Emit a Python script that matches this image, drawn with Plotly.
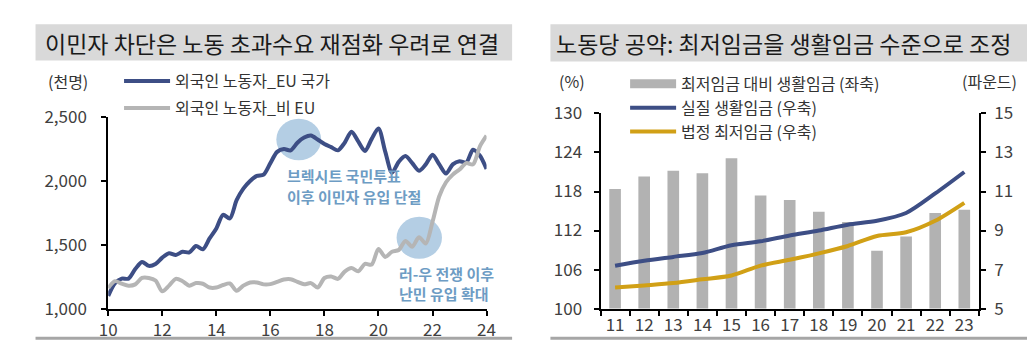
import plotly.graph_objects as go

W, H = 1036, 354
FONT = "Noto Sans CJK KR"

# ---------------- Left chart data (quarterly, thousand persons) ----------------
quarter_x = [10.0, 10.25, 10.5, 10.75, 11.0, 11.25, 11.5, 11.75, 12.0, 12.25, 12.5, 12.75,
             13.0, 13.25, 13.5, 13.75, 14.0, 14.25, 14.5, 14.75, 15.0, 15.25, 15.5, 15.75,
             16.0, 16.25, 16.5, 16.75, 17.0, 17.25, 17.5, 17.75, 18.0, 18.25, 18.5, 18.75,
             19.0, 19.25, 19.5, 19.75, 20.0, 20.25, 20.5, 20.75, 21.0, 21.25, 21.5, 21.75,
             22.0, 22.25, 22.5, 22.75, 23.0, 23.25, 23.5, 23.75, 24.0]
eu_workers = [1100, 1200, 1235, 1235, 1310, 1366, 1335, 1350, 1400, 1434, 1420, 1445,
              1440, 1490, 1465, 1550, 1628, 1735, 1706, 1850, 1940, 2000, 2040, 2050,
              2140, 2228, 2250, 2240, 2300, 2340, 2356, 2325, 2290, 2265, 2240, 2300,
              2385, 2310, 2235, 2330, 2412, 2230, 2065, 2150, 2195, 2140, 2080, 2130,
              2205, 2130, 2058, 2130, 2155, 2145, 2245, 2200, 2094]
non_eu_workers = [1160, 1215, 1195, 1180, 1190, 1240, 1240, 1220, 1136, 1180, 1233, 1215,
                  1180, 1200, 1195, 1165, 1165, 1185, 1197, 1140, 1180, 1205, 1205, 1190,
                  1192, 1210, 1228, 1230, 1210, 1190, 1200, 1165, 1240, 1252, 1233, 1290,
                  1318, 1293, 1350, 1345, 1468, 1405, 1445, 1459, 1530, 1485, 1560, 1510,
                  1680, 1880, 1990, 2050, 2090, 2140, 2130, 2270, 2355]
left_ytick_vals = [1000, 1500, 2000, 2500]
left_ytick_text = ["1,000", "1,500", "2,000", "2,500"]
left_xtick_vals = [10, 12, 14, 16, 18, 20, 22, 24]

# ---------------- Right chart data ----------------
years = ["11", "12", "13", "14", "15", "16", "17", "18", "19", "20", "21", "22", "23"]
living_vs_min = [118.4, 120.3, 121.2, 120.8, 123.1, 117.4, 116.7, 114.9, 113.3, 108.9, 111.1, 114.7, 115.2]
real_living_wage = [7.20, 7.45, 7.65, 7.85, 8.25, 8.45, 8.75, 9.00, 9.30, 9.50, 9.90, 10.90, 12.00]
min_wage = [6.08, 6.19, 6.31, 6.50, 6.70, 7.20, 7.50, 7.83, 8.21, 8.72, 8.91, 9.50, 10.42]

BLUE = "#3d4e85"
GREY_LINE = "#b5b5b5"
GOLD = "#d1a016"
BAR = "#b2b2b2"
NOTE = "#6d9cc4"
CIRCLE = "#b4cee4"
TICK = "#404040"

def px_x(p):
    return p / W

def px_y(p):
    return 1 - p / H

fig = go.Figure()

# Left chart traces
fig.add_trace(go.Scatter(x=quarter_x, y=eu_workers, mode="lines", name="외국인 노동자_EU 국가",
                         line=dict(color=BLUE, width=4, shape="spline", smoothing=0.8),
                         xaxis="x", yaxis="y", legend="legend", legendgroup="a"))
fig.add_trace(go.Scatter(x=quarter_x, y=non_eu_workers, mode="lines", name="외국인 노동자_비 EU",
                         line=dict(color=GREY_LINE, width=4, shape="spline", smoothing=0.8),
                         xaxis="x", yaxis="y", legend="legend", legendgroup="b"))

# Right chart traces
fig.add_trace(go.Bar(x=years, y=living_vs_min, name="최저임금 대비 생활임금 (좌축)",
                     marker=dict(color=BAR, line=dict(width=0)), width=0.4,
                     xaxis="x2", yaxis="y2", showlegend=False))
fig.add_trace(go.Scatter(x=[None], y=[None], mode="lines", name="최저임금 대비 생활임금 (좌축)",
                         line=dict(color=BAR, width=9),
                         xaxis="x2", yaxis="y2", legend="legend2", legendgroup="c"))
fig.add_trace(go.Scatter(x=years, y=real_living_wage, mode="lines", name="실질 생활임금 (우축)",
                         line=dict(color=BLUE, width=4, shape="spline", smoothing=0.8),
                         xaxis="x2", yaxis="y3", legend="legend2", legendgroup="d"))
fig.add_trace(go.Scatter(x=years, y=min_wage, mode="lines", name="법정 최저임금 (우축)",
                         line=dict(color=GOLD, width=4, shape="spline", smoothing=0.8),
                         xaxis="x2", yaxis="y3", legend="legend2", legendgroup="e"))

axis_common = dict(showgrid=False, zeroline=False, showline=True, linecolor="black", linewidth=2,
                   ticks="outside", tickcolor="black", tickwidth=2, ticklen=5,
                   tickfont=dict(family=FONT, size=17, color=TICK))

fig.update_layout(
    width=W, height=H,
    margin=dict(l=0, r=0, t=0, b=0),
    paper_bgcolor="white", plot_bgcolor="rgba(0,0,0,0)",
    font=dict(family=FONT, color="#333333"),
    xaxis=dict(domain=[px_x(101), px_x(486)], range=[10, 24], tickvals=left_xtick_vals,
               anchor="y", ticklabelstandoff=0, **axis_common),
    yaxis=dict(domain=[px_y(317), px_y(111)], range=[1000, 2500], tickvals=left_ytick_vals,
               ticktext=left_ytick_text, anchor="x", ticklabelstandoff=11, **axis_common),
    xaxis2=dict(domain=[px_x(602), px_x(987)], range=[-0.5, 12.5], type="category",
                tickson="boundaries", anchor="y2", ticklabelstandoff=0, **axis_common),
    yaxis2=dict(domain=[px_y(317), px_y(107)], range=[100, 130], tickvals=[100, 106, 112, 118, 124, 130],
                anchor="x2", ticklabelstandoff=8, **axis_common),
    yaxis3=dict(domain=[px_y(317), px_y(107)], range=[5, 15], tickvals=[5, 7, 9, 11, 13, 15],
                overlaying="y2", side="right", anchor="x2", ticklabelstandoff=5, **axis_common),
    legend=dict(x=px_x(112), y=px_y(54), xanchor="left", yanchor="top", bgcolor="rgba(0,0,0,0)",
                font=dict(family=FONT, size=16, color="#333333"), tracegroupgap=3, itemwidth=46,
                traceorder="grouped"),
    legend2=dict(x=px_x(627), y=px_y(57), xanchor="left", yanchor="top", bgcolor="rgba(0,0,0,0)",
                 font=dict(family=FONT, size=16, color="#333333"), tracegroupgap=0, itemwidth=46,
                 traceorder="grouped"),
)

shapes = [
    # title banners
    dict(type="rect", xref="paper", yref="paper", x0=px_x(27), x1=px_x(512), y0=px_y(50), y1=px_y(11),
         fillcolor="#d9d9d9", line=dict(width=0), layer="below"),
    dict(type="rect", xref="paper", yref="paper", x0=px_x(551), x1=px_x(1036), y0=px_y(51), y1=px_y(11),
         fillcolor="#d9d9d9", line=dict(width=0), layer="below"),
    # bottom rules
    dict(type="line", xref="paper", yref="paper", x0=px_x(27), x1=px_x(512), y0=px_y(349), y1=px_y(349),
         line=dict(color="#a6a6a6", width=3)),
    dict(type="line", xref="paper", yref="paper", x0=px_x(551), x1=px_x(1036), y0=px_y(349), y1=px_y(349),
         line=dict(color="#a6a6a6", width=3)),
    # highlight circles (data coordinates, radius ~23px)
    dict(type="circle", xref="x", yref="y", x0=17.05 - 0.83, x1=17.05 + 0.83, y0=2325 - 163, y1=2325 + 163,
         fillcolor=CIRCLE, line=dict(width=0), layer="below"),
    dict(type="circle", xref="x", yref="y", x0=21.51 - 0.84, x1=21.51 + 0.84, y0=1555 - 165, y1=1555 + 165,
         fillcolor=CIRCLE, line=dict(width=0), layer="below"),
]
fig.update_layout(shapes=shapes)

ann = []
def text(x, y, s, size, color, xanchor="left", bold=False):
    ann.append(dict(xref="paper", yref="paper", x=px_x(x), y=px_y(y), xanchor=xanchor, yanchor="middle",
                    text=("<b>%s</b>" % s) if bold else s, showarrow=False,
                    font=dict(family=FONT, size=size, color=color)))

text(35, 31, "이민자 차단은 노동 초과수요 재점화 우려로 연결", 23, "#1a1a1a")
text(555, 31, "노동당 공약: 최저임금을 생활임금 수준으로 조정", 23, "#1a1a1a")
text(38, 72, "(천명)", 16, "#333333")
text(558, 72, "(%)", 16, "#333333")
text(968, 72, "(파운드)", 16, "#333333")
text(281, 174, "브렉시트 국민투표", 15, NOTE, bold=True)
text(281, 196, "이후 이민자 유입 단절", 15, NOTE, bold=True)
text(395, 279, "러-우 전쟁 이후", 15, NOTE, bold=True)
text(395, 301, "난민 유입 확대", 15, NOTE, bold=True)
fig.update_layout(annotations=ann)

fig.write_html("out.html",
               post_script="document.body.style.margin='0';document.body.style.padding='0';"
                           "document.body.style.overflow='hidden';")
